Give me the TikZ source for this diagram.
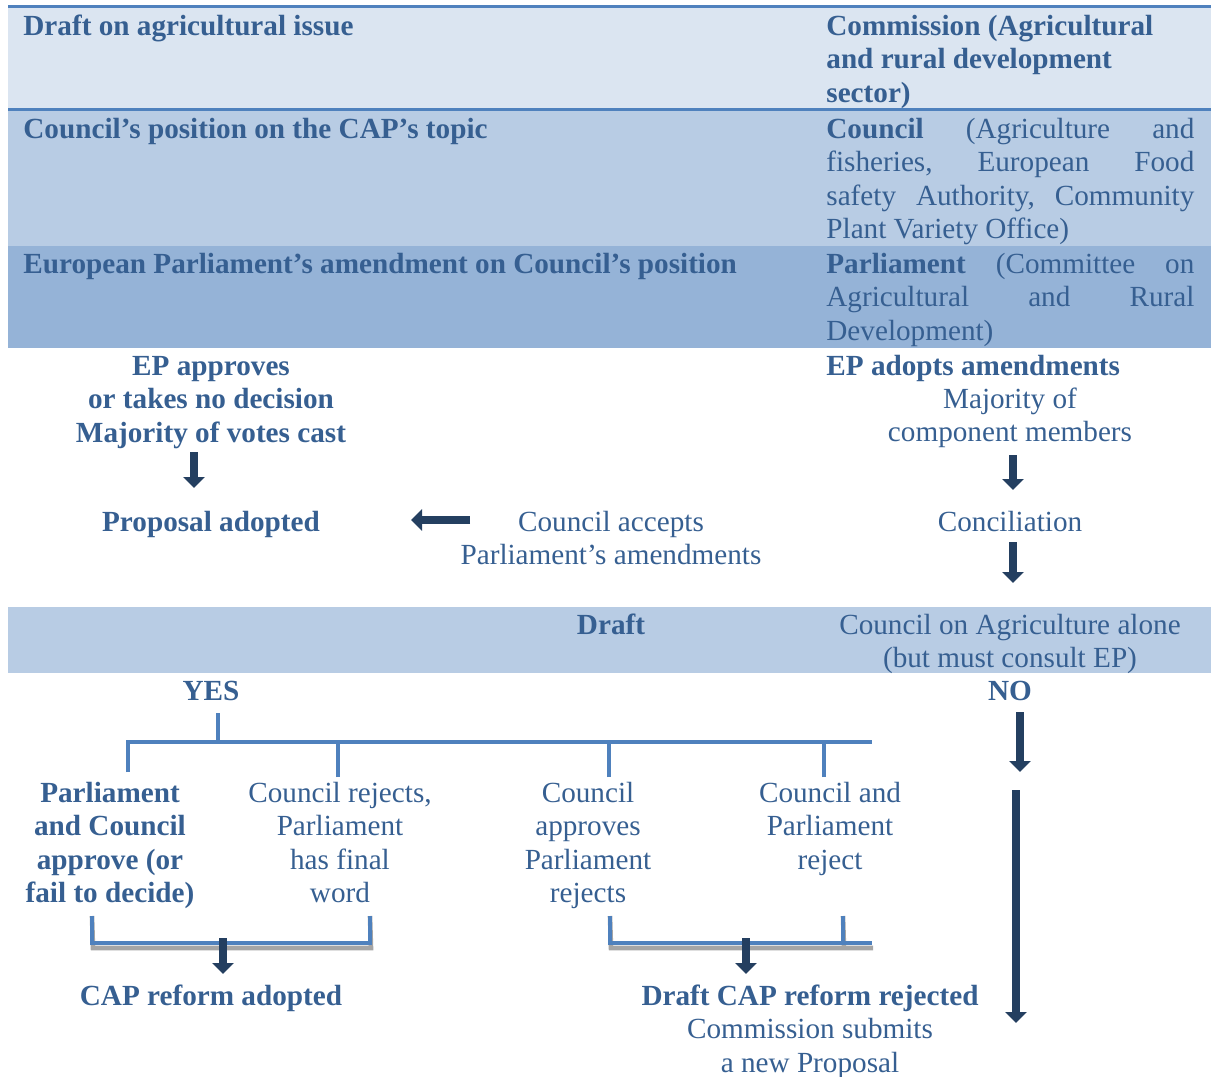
\documentclass[tikz,border=0pt]{standalone}
\usepackage{fontspec}
\setmainfont{Liberation Serif}
\usetikzlibrary{arrows.meta}
\definecolor{txt}{HTML}{365F91}
\definecolor{navy}{HTML}{243F60}
\definecolor{bandA}{HTML}{DBE5F1}
\definecolor{bandB}{HTML}{B8CCE4}
\definecolor{bandC}{HTML}{95B3D7}
\definecolor{rulecol}{HTML}{4F81BD}
\definecolor{shadowcol}{HTML}{A5A5A5}
\newcommand{\jline}[1]{\hbox to 184pt{#1}}
\begin{document}
\begin{tikzpicture}[x=0.5pt,y=-0.5pt,
  lbl/.style={inner sep=0pt, text=txt, font=\fontsize{14.6pt}{16.8pt}\selectfont},
  bl/.style={inner sep=0pt, text=txt, font=\fontsize{14.6pt}{16.8pt}\selectfont\bfseries},
  bigarr/.style={draw=navy, line width=4.2pt, -{Triangle[width=10.5pt,length=5.5pt]}},
  brk/.style={draw=rulecol, line width=2.3pt},
  brkshadow/.style={draw=shadowcol, line width=2.3pt, shift={(1,5)}},
]
\useasboundingbox (0,0) rectangle (1211,1077);

% ---- header bands ----
\fill[bandA] (8,7) rectangle (1211,109);
\fill[bandB] (8,109) rectangle (1211,246);
\fill[bandC] (8,246) rectangle (1211,348);
\draw[rulecol, line width=1.5pt] (8,6.5) -- (1211,6.5);
\draw[rulecol, line width=1.5pt] (8,109.5) -- (1211,109.5);
\fill[bandB] (8,607) rectangle (1211,673);

% ---- header texts (multi-line nodes are anchored at the baseline of their last line) ----
\node[bl, anchor=base west] (t1L) at (23,35) {Draft on agricultural issue};
\node[bl, anchor=base west, align=left] (t1R) at (826,102.2) {Commission (Agricultural\\and rural development\\sector)};
\node[bl, anchor=base west] (t2L) at (23,138) {Council’s position on the CAP’s topic};
\node[lbl, anchor=base west, align=left] (t2R) at (826,238.8)
  {\jline{\textbf{Council}\hfill(Agriculture\hfill and}\\
   \jline{fisheries,\hfill European\hfill Food}\\
   \jline{safety\hfill Authority,\hfill Community}\\
   Plant Variety Office)};
\node[bl, anchor=base west] (t3L) at (23,273) {European Parliament’s amendment on Council’s position};
\node[lbl, anchor=base west, align=left] (t3R) at (826,340.2)
  {\jline{\textbf{Parliament}\hfill(Committee\hfill on}\\
   \jline{Agricultural\hfill and\hfill Rural}\\
   Development)};

% ---- middle part ----
\node[bl, anchor=base, align=center] (ep) at (211,442.2) {EP approves\\or takes no decision\\Majority of votes cast};
\node[bl, anchor=base] (prop) at (211,531) {Proposal adopted};
\node[lbl, anchor=base, align=center] (acc) at (611,564.6) {Council accepts\\Parliament’s amendments};
\node[bl, anchor=base west] (epa) at (826,375) {EP adopts amendments};
\node[lbl, anchor=base, align=center] (maj) at (1010,441.6) {Majority of\\component members};
\node[lbl, anchor=base] (conc) at (1010,531) {Conciliation};
\node[bl, anchor=base] (draft) at (611,634) {Draft};
\node[lbl, anchor=base, align=center] (cal) at (1010,667.6) {Council on Agriculture alone\\(but must consult EP)};
\node[bl, anchor=base] (yes) at (211,700) {YES};
\node[bl, anchor=base] (no) at (1010,700) {NO};

% ---- outcomes ----
\node[bl, anchor=base, align=center] (o1) at (110,902.8) {Parliament\\and Council\\approve (or\\fail to decide)};
\node[lbl, anchor=base, align=center] (o2) at (340,902.8) {Council rejects,\\Parliament\\has final\\word};
\node[lbl, anchor=base, align=center] (o3) at (588,902.8) {Council\\approves\\Parliament\\rejects};
\node[lbl, anchor=base, align=center] (o4) at (830,869.2) {Council and\\Parliament\\reject};
\node[bl, anchor=base] (adopted) at (211,1005) {CAP reform adopted};
\node[lbl, anchor=base, align=center] (rejected) at (810,1072.2) {\textbf{Draft CAP reform rejected}\\Commission submits\\a new Proposal};

% ---- bracket coordinates ----
\coordinate (yesfoot) at (218,713);
\coordinate (hub) at (218,742);
\coordinate (hL) at (128,742);
\coordinate (hR) at (872,742);
\coordinate (d1) at (128,772);
\coordinate (d2) at (338,777);
\coordinate (d3) at (609,777);
\coordinate (d4) at (824,777);
\coordinate (lbA) at (92,916);
\coordinate (lbB) at (370,916);
\coordinate (rbA) at (610,916);
\coordinate (rbB) at (843,916);

% shadows, then blue lines
\foreach \s in {brkshadow, brk}{
  \draw[\s] (yesfoot) -- (hub);
  \draw[\s] (d1) -- (hL) -- (hR);
  \draw[\s] (d2) -- (d2 |- hL);
  \draw[\s] (d3) -- (d3 |- hL);
  \draw[\s] (d4) -- (d4 |- hL);
  \draw[\s] (lbA) -- (92,943) -- (370,943) -- (lbB);
  \draw[\s] (rbA) -- (610,943) -- (872,943);
  \draw[\s] (rbB) -- (843,943);
}

% ---- arrows ----
\coordinate (a1s) at (194,452); \coordinate (a1e) at (194,488);
\coordinate (a2s) at (470,520); \coordinate (a2e) at (411,520);
\coordinate (a3s) at (1013,455); \coordinate (a3e) at (1013,490);
\coordinate (a4s) at (1013,542); \coordinate (a4e) at (1013,583);
\coordinate (a5s) at (1020,712); \coordinate (a5e) at (1020,772);
\coordinate (a6s) at (1016,790); \coordinate (a6e) at (1016,1023);
\coordinate (a7s) at (223,938); \coordinate (a7e) at (223,974);
\coordinate (a8s) at (746,938); \coordinate (a8e) at (746,974);
\draw[bigarr] (a1s) -- (a1e);
\draw[bigarr] (a2s) -- (a2e);
\draw[bigarr] (a3s) -- (a3e);
\draw[bigarr] (a4s) -- (a4e);
\draw[bigarr] (a5s) -- (a5e);
\draw[bigarr] (a6s) -- (a6e);
\draw[bigarr] (a7s) -- (a7e);
\draw[bigarr] (a8s) -- (a8e);
\end{tikzpicture}
\end{document}
